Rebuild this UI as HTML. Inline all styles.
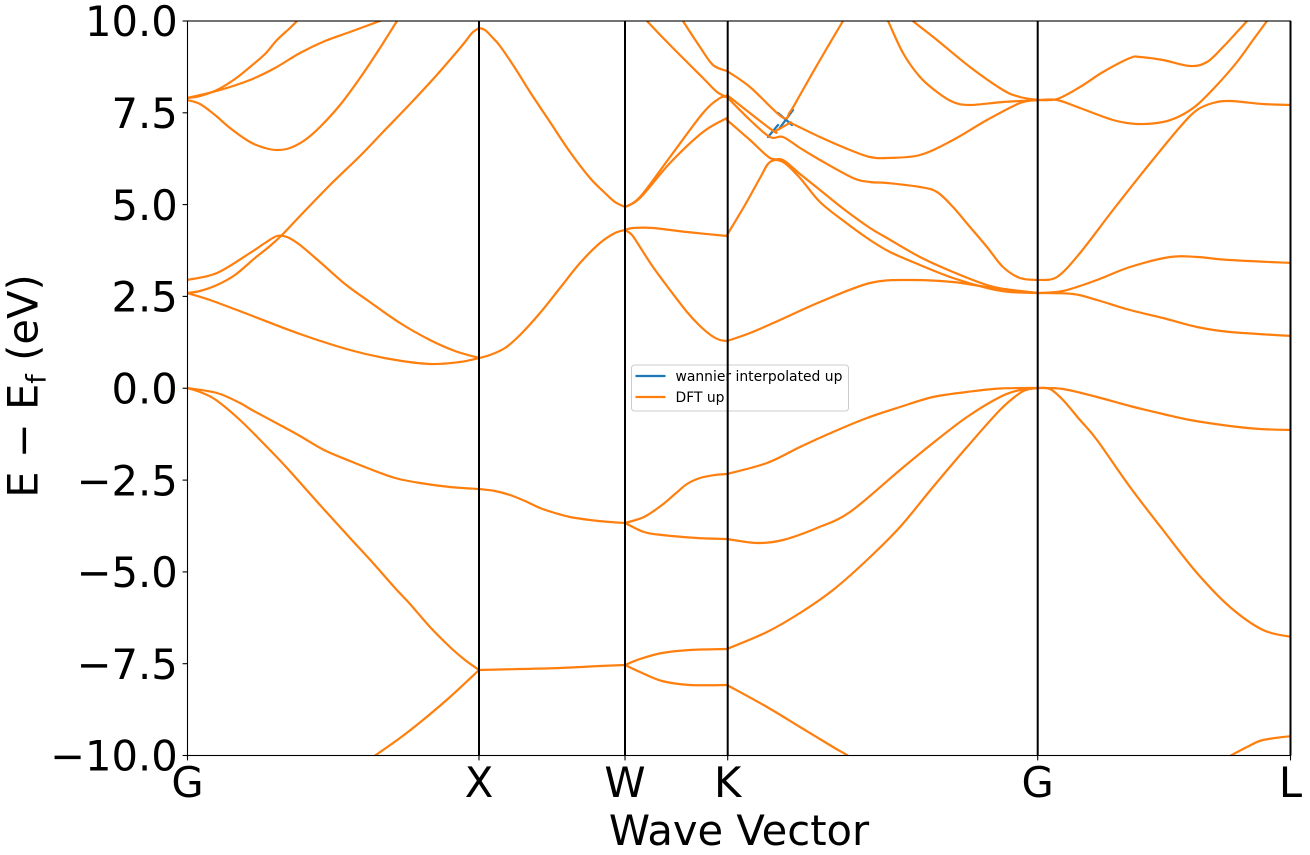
<!DOCTYPE html>
<html>
<head>
<meta charset="utf-8">
<style>
  html,body{margin:0;padding:0;background:#fff;}
  svg{display:block;}
  text{font-family:"DejaVu Sans","Liberation Sans",sans-serif;fill:#000;}
</style>
</head>
<body>
<svg width="1310" height="855" viewBox="0 0 1310 855" xmlns="http://www.w3.org/2000/svg">
  <defs>
    <clipPath id="pa"><rect x="187.5" y="21" width="1103" height="734.5"/></clipPath>
  </defs>
  <rect x="0" y="0" width="1310" height="855" fill="#fff"/>

  <!-- bands -->
  <g clip-path="url(#pa)" fill="none" stroke-linejoin="round" stroke-linecap="round">
    <g stroke="#1f77b4" stroke-width="2.2">
      <polyline points="779,129 793,110"/>
      <polyline points="778,113 792,125"/>
      <polyline points="768,137 778,125"/>
    </g>
    <g id="bands" stroke="#ff7f0e" stroke-width="2.2">
      <!-- G -> X -->
      <polyline points="373,757 400,738 423,720 450,697 479,670"/>
      <polyline points="187,388 200,392 216,400 240,420 265,445 287,468 320,505 350,538 373,563 395,588 410,604 430,627 451,648 465,660 479,670"/>
      <polyline points="187,388 217,393 240,403 252,410 280,425 300,436 324,450 350,461 370,469 395,478 420,483 450,487 479,489"/>
      <polyline points="187,293 210,300 250,315 300,334 350,350 390,359 430,364 460,362 479,358"/>
      <polyline points="187,293 200,291 217,285 235,275 255,258 270,246 283,234 300,216 330,185 360,156 383,132 410,104 435,77 455,54 465,42 472,33 479,28"/>
      <polyline points="187,280 217,273 250,253 265,243 277,236 287,237 300,245 320,262 345,284 367,300 400,323 430,340 455,351 479,358"/>
      <polyline points="187,100 200,104 215,115 230,128 250,142 265,148 277,150 290,148 305,140 320,127 340,105 360,78 380,48 397,21 400,17"/>
      <polyline points="187,98 220,90 250,80 275,68 300,53 325,41 350,32 380,21 390,18"/>
      <polyline points="187,98 200,96 217,90 235,79 250,67 265,54 277,40 290,28 297,21 300,18"/>
      <!-- X -> W -->
      <polyline points="479,670 520,669 560,668 600,666 625,665"/>
      <polyline points="479,489 495,491 510,495 525,501 540,508 555,513 570,517 590,520 610,522 625,523"/>
      <polyline points="479,358 490,355 505,348 520,335 540,313 560,288 580,263 600,243 615,233 625,230"/>
      <polyline points="479,28 485,30 492,37 500,46 515,68 530,92 550,122 570,152 590,178 605,193 615,202 625,207"/>
      <!-- W -> K -->
      <polyline points="625,665 640,659 662,653 690,650 727,649"/>
      <polyline points="625,665 640,672 662,681 690,685 727,685"/>
      <polyline points="625,523 644,517 662,505 675,494 687,484 700,478 715,475 727,474"/>
      <polyline points="625,523 644,532 662,535 697,538 727,539"/>
      <polyline points="625,230 633,228 653,228 687,232 727,236"/>
      <polyline points="625,230 632,235 640,247 653,267 670,290 687,312 700,326 712,336 720,340 727,341"/>
      <polyline points="625,207 640,197 670,157 703,113 720,98 727,97"/>
      <polyline points="625,207 640,198 670,163 703,132 727,118"/>
      <polyline points="644,17 647,21 670,45 703,78 717,92 727,97"/>
      <polyline points="681,17 683,21 700,47 713,65 727,71"/>
      <!-- K -> G -->
      <polyline points="727,649 767,632 800,613 833,590 867,560 900,527 933,487 967,447 1000,410 1020,393 1030,389 1038,388"/>
      <polyline points="727,685 767,707 800,727 833,747 847,755 852,759"/>
      <polyline points="727,539 757,543 783,540 817,528 850,512 900,470 933,443 967,417 1000,397 1020,390 1038,388"/>
      <polyline points="727,474 767,463 800,447 833,432 867,418 900,407 933,397 967,392 1000,388.5 1038,388"/>
      <polyline points="727,341 750,333 780,320 820,302 870,283 910,280 953,282 987,287 1038,293"/>
      <polyline points="727,120 750,140 770,158 783,160 800,174 820,190 845,210 870,228 887,238 920,257 953,272 987,285 1010,290 1038,293"/>
      <polyline points="727,235 745,205 760,178 770,162 783,162 800,178 820,202 845,222 870,240 890,252 920,265 953,278 987,288 1010,292 1038,293"/>
      <polyline points="727,97 750,120 770,137 783,137 800,148 820,160 853,178 870,182 887,183 920,187 937,192 953,207 970,227 987,247 1003,267 1020,278 1038,280"/>
      <polyline points="727,95 772,130 777,130 790,123 793,124 820,137 850,150 870,157 887,158 920,155 953,140 987,120 1020,103 1038,100"/>
      <polyline points="727,71 750,87 782,117 790,112 800,95 820,60 843,21 846,17"/>
      <polyline points="885,17 888,21 903,53 920,77 937,92 953,102 970,105 1003,102 1038,100"/>
      <polyline points="911,17 913,21 937,40 970,67 1003,90 1020,97 1038,100"/>
      <!-- G -> L -->
      <polyline points="1038,100 1057,99 1080,87 1103,72 1130,58 1140,57 1163,60 1190,66 1207,62 1223,47 1237,32 1247,21 1250,17"/>
      <polyline points="1038,100 1057,100 1080,108 1113,120 1137,124 1163,122 1180,116 1197,105 1217,85 1237,62 1253,40 1267,21 1270,17"/>
      <polyline points="1038,280 1057,277 1080,253 1113,210 1147,167 1180,127 1197,110 1213,103 1230,101 1263,104 1292,105"/>
      <polyline points="1038,293 1063,291 1097,280 1130,267 1170,257 1197,257 1230,260 1292,263"/>
      <polyline points="1038,293 1073,294 1097,300 1130,310 1163,318 1197,327 1230,332 1292,336"/>
      <polyline points="1038,388 1063,389 1097,397 1130,406 1163,414 1190,420 1230,426 1260,429 1292,430"/>
      <polyline points="1038,388 1050,389 1063,400 1080,420 1097,440 1130,487 1163,530 1197,573 1230,607 1263,630 1292,637"/>
      <polyline points="1228,757 1247,747 1263,740 1292,736"/>
    </g>
  </g>

  <!-- legend -->
  <rect x="631.5" y="365" width="217" height="46" rx="3" ry="3" fill="#fff" fill-opacity="0.8" stroke="#cccccc" stroke-width="1"/>
  <line x1="635.5" y1="376" x2="665.5" y2="376" stroke="#1f77b4" stroke-width="2.2"/>
  <text x="675.5" y="381" font-size="13.9">wannier interpolated up</text>
  <line x1="635.5" y1="397" x2="665.5" y2="397" stroke="#ff7f0e" stroke-width="2.2"/>
  <text x="675.5" y="402" font-size="13.9">DFT up</text>

  <!-- vertical high-symmetry lines -->
  <g stroke="#000" stroke-width="2">
    <line x1="479" y1="21" x2="479" y2="755.5"/>
    <line x1="625" y1="21" x2="625" y2="755.5"/>
    <line x1="727.7" y1="21" x2="727.7" y2="755.5"/>
    <line x1="1037.7" y1="21" x2="1037.7" y2="755.5"/>
    <line x1="1290.5" y1="21" x2="1290.5" y2="755.5"/>
  </g>

  <!-- axes frame -->
  <rect x="187.5" y="21" width="1103" height="734.5" fill="none" stroke="#000" stroke-width="1.1"/>

  <!-- ticks -->
  <g stroke="#000" stroke-width="1.1">
    <line x1="182.6" y1="21" x2="187.5" y2="21"/>
    <line x1="182.6" y1="112.8" x2="187.5" y2="112.8"/>
    <line x1="182.6" y1="204.6" x2="187.5" y2="204.6"/>
    <line x1="182.6" y1="296.4" x2="187.5" y2="296.4"/>
    <line x1="182.6" y1="388.25" x2="187.5" y2="388.25"/>
    <line x1="182.6" y1="480.1" x2="187.5" y2="480.1"/>
    <line x1="182.6" y1="571.9" x2="187.5" y2="571.9"/>
    <line x1="182.6" y1="663.7" x2="187.5" y2="663.7"/>
    <line x1="182.6" y1="755.5" x2="187.5" y2="755.5"/>
    <line x1="187.5" y1="755.5" x2="187.5" y2="760.4"/>
    <line x1="479" y1="755.5" x2="479" y2="760.4"/>
    <line x1="625" y1="755.5" x2="625" y2="760.4"/>
    <line x1="727.7" y1="755.5" x2="727.7" y2="760.4"/>
    <line x1="1037.7" y1="755.5" x2="1037.7" y2="760.4"/>
    <line x1="1290.5" y1="755.5" x2="1290.5" y2="760.4"/>
  </g>
  <g font-size="41.67" text-anchor="end">
    <text x="177.8" y="36.2">10.0</text>
    <text x="177.8" y="128">7.5</text>
    <text x="177.8" y="219.8">5.0</text>
    <text x="177.8" y="311.6">2.5</text>
    <text x="177.8" y="403.4">0.0</text>
    <text x="177.8" y="495.3">−2.5</text>
    <text x="177.8" y="587.1">−5.0</text>
    <text x="177.8" y="678.9">−7.5</text>
    <text x="177.8" y="770.7">−10.0</text>
  </g>
  <g font-size="41.67" text-anchor="middle">
    <text x="187.5" y="797">G</text>
    <text x="479" y="797">X</text>
    <text x="625" y="797">W</text>
    <text x="727.7" y="797">K</text>
    <text x="1037.7" y="797">G</text>
    <text x="1290.5" y="797">L</text>
  </g>
  <text x="739" y="845" font-size="41.67" text-anchor="middle">Wave Vector</text>
  <text transform="translate(37.5,386) rotate(-90)" font-size="41.67" text-anchor="middle">E − E<tspan font-size="27" dy="8">f</tspan><tspan dy="-8"> (eV)</tspan></text>
</svg>
<script>
(function(){
  try{
    var NS="http://www.w3.org/2000/svg";
    var g=document.getElementById("bands");
    var pls=g.querySelectorAll("polyline");
    for(var k=0;k<pls.length;k++){
      var pl=pls[k];
      var raw=pl.getAttribute("points").trim().split(/\s+/);
      var p=[];
      for(var i=0;i<raw.length;i++){var c=raw[i].split(",");p.push([parseFloat(c[0]),parseFloat(c[1])]);}
      if(p.length<3) continue;
      var d="M"+p[0][0]+","+p[0][1];
      for(var i=0;i<p.length-1;i++){
        var p0=p[i>0?i-1:i],p1=p[i],p2=p[i+1],p3=p[i+2<p.length?i+2:i+1];
        var c1x=p1[0]+(p2[0]-p0[0])/6,c1y=p1[1]+(p2[1]-p0[1])/6;
        var c2x=p2[0]-(p3[0]-p1[0])/6,c2y=p2[1]-(p3[1]-p1[1])/6;
        d+=" C"+c1x.toFixed(2)+","+c1y.toFixed(2)+" "+c2x.toFixed(2)+","+c2y.toFixed(2)+" "+p2[0]+","+p2[1];
      }
      var path=document.createElementNS(NS,"path");
      path.setAttribute("d",d);
      g.replaceChild(path,pl);
    }
  }catch(e){}
})();
</script>
</body>
</html>
